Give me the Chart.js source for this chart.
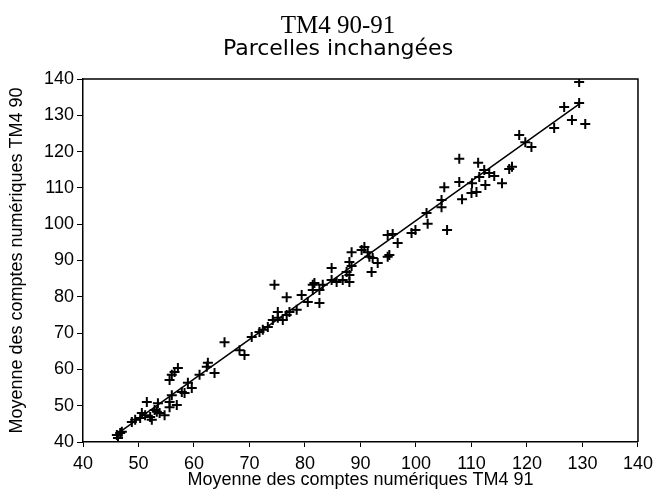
<!DOCTYPE html>
<html>
<head>
<meta charset="utf-8">
<script src="https://cdn.jsdelivr.net/npm/chart.js@4/dist/chart.umd.min.js"></script>
<style>
  html, body { margin: 0; padding: 0; background: #fff; }
  #wrap { width: 659px; height: 491px; }
</style>
</head>
<body>
<div id="wrap"><canvas id="myChart" width="659" height="491"></canvas></div>
<script>
// Titles
const titleText = 'TM4 90-91';
const subtitleText = 'Parcelles inchangées';
const xTitle = 'Moyenne des comptes numériques TM4 91';
const yTitle = 'Moyenne des comptes numériques TM4 90';

// Tick labels (both axes)
const tickValues = [40, 50, 60, 70, 80, 90, 100, 110, 120, 130, 140];

// Plot means, TM4 91 (x) and TM4 90 (y)
const x91 = [46.1, 46.3, 46.7, 47.0, 48.8, 49.4, 50.3, 50.6, 51.5, 52.1,
  52.4, 52.9, 53.3, 53.8, 53.5, 55.6, 56.9, 55.6, 56.0, 57.8,
  58.3, 59.6, 58.9, 61.0, 55.6, 56.0, 56.5, 57.1, 62.3, 62.5,
  63.7, 65.5, 51.2, 54.7,
  68.2, 69.1, 70.4, 71.8, 72.4, 73.3, 74.2, 75.1, 76.0, 75.1,
  76.7, 77.2, 78.5, 74.5, 76.7, 79.4, 80.5, 81.4, 81.7, 82.6, 82.6,
  81.4, 83.2, 84.8, 85.7, 84.8, 86.8, 87.5, 88.0, 88.0, 88.0,
  88.4, 88.4, 90.2, 90.7, 91.3, 91.6, 92.2, 93.1, 92.0, 94.9,
  95.2, 94.9, 95.8, 96.7, 99.2, 99.9, 101.9, 102.1, 105.6, 104.6,
  104.6, 105.1, 108.3, 110.0, 110.9, 107.8, 110.1, 112.5, 115.5, 107.8,
  111.2, 112.3, 111.4, 114.1, 113.2, 116.8, 117.3, 118.6, 119.7, 120.8,
  124.9, 126.7, 128.1, 129.4, 129.4, 130.5];
const y90 = [41.9, 41.1, 42.5, 42.8, 45.5, 46.1, 46.6, 48.0, 51.0, 46.9,
  46.1, 48.8, 48.3, 48.0, 50.7, 51.0, 50.2, 49.6, 52.9, 53.8,
  53.5, 54.9, 56.3, 58.5, 57.1, 58.5, 59.3, 60.4, 60.7, 61.8,
  59.0, 67.5, 47.4, 47.4,
  65.3, 64.0, 68.9, 70.3, 70.9, 71.7, 73.6, 74.2, 73.6, 75.8,
  75.0, 75.8, 76.4, 83.3, 79.9, 80.5, 78.6, 81.9, 83.8, 81.9, 78.3,
  83.3, 83.3, 84.6, 84.1, 87.9, 84.6, 86.8, 86.0, 84.1, 89.6,
  88.5, 92.3, 92.9, 93.7, 92.3, 91.0, 90.7, 89.3, 86.8, 91.0,
  91.5, 97.0, 97.3, 94.8, 97.6, 98.4, 103.1, 100.1, 98.4, 104.7,
  106.7, 110.2, 106.9, 108.6, 108.9, 111.6, 111.3, 110.8, 111.3, 118.0,
  116.9, 114.9, 113.0, 113.3, 114.1, 115.2, 115.8, 124.6, 122.6, 121.3,
  126.5, 132.3, 128.7, 133.4, 139.2, 127.6];

// Fitted line end points
const fitX = [46.6, 129.7];
const fitY = [42.7, 133.4];

const axisFont = { family: '"Liberation Sans", Arial, sans-serif', size: 18 };

// Frame (top/right) and the two title lines
const framePlugin = {
  id: 'frame',
  afterDraw(chart) {
    const { ctx, chartArea } = chart;
    ctx.save();
    ctx.strokeStyle = '#000';
    ctx.lineWidth = 1.5;
    ctx.beginPath();
    ctx.moveTo(chartArea.left, chartArea.top);
    ctx.lineTo(chartArea.right, chartArea.top);
    ctx.lineTo(chartArea.right, chartArea.bottom);
    ctx.stroke();
    ctx.fillStyle = '#000';
    ctx.textAlign = 'center';
    ctx.textBaseline = 'alphabetic';
    ctx.font = '25px "Liberation Serif", "Times New Roman", serif';
    ctx.fillText(titleText, 338, 33);
    ctx.font = '22px "DejaVu Sans", sans-serif';
    ctx.fillText(subtitleText, 338, 55);
    ctx.restore();
  }
};

const ctx = document.getElementById('myChart').getContext('2d');

new Chart(ctx, {
  type: 'scatter',
  data: {
    datasets: [{
      label: 'Parcelles',
      data: x91.map((x, i) => ({ x: x, y: y90[i] })),
      pointStyle: 'cross',
      pointRadius: 5,
      pointBorderWidth: 2,
      borderColor: '#000',
      backgroundColor: '#000'
    }, {
      label: 'Droite',
      data: fitX.map((x, i) => ({ x: x, y: fitY[i] })),
      showLine: true,
      pointRadius: 0,
      borderColor: '#000',
      borderWidth: 1.5
    }]
  },
  options: {
    responsive: false,
    animation: false,
    layout: { padding: { top: 79, right: 20, left: 0, bottom: 0 } },
    plugins: {
      legend: { display: false },
      tooltip: { enabled: false }
    },
    scales: {
      x: {
        type: 'linear',
        min: 40,
        max: 140,
        afterBuildTicks: s => { s.ticks = tickValues.map(v => ({ value: v })); },
        ticks: { font: axisFont, color: '#000', padding: 6, maxRotation: 0 },
        grid: { drawOnChartArea: false, tickLength: 5, color: '#000' },
        border: { color: '#000', width: 1.5 },
        title: { display: true, text: xTitle, font: axisFont, color: '#000', padding: { top: 0, bottom: 0 } },
        afterFit: s => { s.height = 49; }
      },
      y: {
        type: 'linear',
        min: 40,
        max: 140,
        afterBuildTicks: s => { s.ticks = tickValues.map(v => ({ value: v })); },
        ticks: { font: axisFont, color: '#000', padding: 3 },
        grid: { drawOnChartArea: false, tickLength: 6, color: '#000' },
        border: { color: '#000', width: 1.5 },
        title: { display: true, text: yTitle, font: axisFont, color: '#000', padding: { top: 6, bottom: 0 } },
        afterFit: s => { s.width = 83; }
      }
    }
  },
  plugins: [framePlugin]
});
</script>
</body>
</html>
